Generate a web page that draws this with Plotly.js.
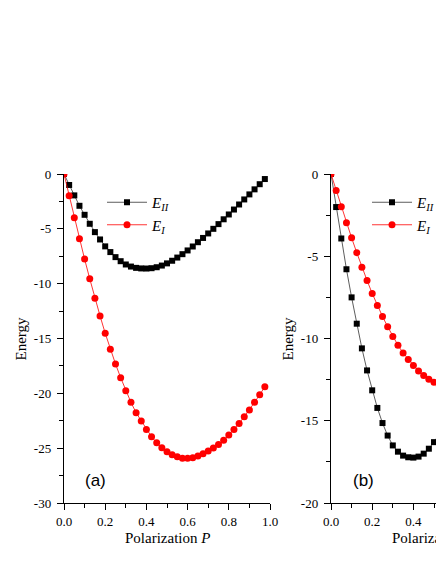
<!DOCTYPE html>
<html>
<head>
<meta charset="utf-8">
<script src="https://cdn.plot.ly/plotly-3.0.1.min.js"></script>
<style>
html,body{margin:0;padding:0;overflow:hidden;background:#fff;}
#wrap{width:436px;height:564px;overflow:hidden;}
#plot{width:560px;height:564px;}
</style>
</head>
<body>
<div id="wrap"><div id="plot"></div></div>
<script>
// Panel (a) data
const P_A = [0,0.025,0.05,0.075,0.1,0.125,0.15,0.175,0.2,0.225,0.25,0.275,0.3,0.325,0.35,0.375,0.4,0.425,0.45,0.475,0.5,0.525,0.55,0.575,0.6,0.625,0.65,0.675,0.7,0.725,0.75,0.775,0.8,0.825,0.85,0.875,0.9,0.925,0.95,0.975];
const EII_A = [0,-1.0,-1.95,-2.9,-3.72,-4.54,-5.3,-5.97,-6.6,-7.12,-7.58,-7.95,-8.25,-8.44,-8.56,-8.61,-8.62,-8.59,-8.5,-8.35,-8.15,-7.91,-7.62,-7.31,-6.97,-6.61,-6.22,-5.83,-5.42,-5.0,-4.57,-4.13,-3.69,-3.24,-2.78,-2.32,-1.86,-1.4,-0.93,-0.46];
const EI_A = [0,-1.98,-3.99,-5.91,-7.76,-9.56,-11.33,-12.94,-14.52,-15.98,-17.32,-18.57,-19.76,-20.82,-21.77,-22.53,-23.29,-23.96,-24.51,-24.97,-25.33,-25.6,-25.79,-25.91,-25.93,-25.87,-25.72,-25.5,-25.25,-24.98,-24.66,-24.27,-23.81,-23.29,-22.74,-22.14,-21.52,-20.82,-20.13,-19.4];
// Panel (b) data (visible part)
const P_B = [0,0.025,0.05,0.075,0.1,0.125,0.15,0.175,0.2,0.225,0.25,0.275,0.3,0.325,0.35,0.375,0.4,0.425,0.45,0.475,0.5,0.525];
const EII_B = [0,-2.01,-3.92,-5.79,-7.5,-9.1,-10.6,-11.94,-13.15,-14.22,-15.14,-15.9,-16.5,-16.88,-17.12,-17.22,-17.24,-17.18,-17.0,-16.7,-16.3,-15.82];
const EI_B = [0,-1.0,-1.99,-2.96,-3.88,-4.78,-5.67,-6.47,-7.26,-7.99,-8.66,-9.28,-9.88,-10.41,-10.88,-11.27,-11.64,-11.98,-12.25,-12.48,-12.66,-12.8];

// Tick labels
const X_TICKS = [0,0.2,0.4,0.6,0.8,1.0];
const X_TICKTEXT = ['0.0','0.2','0.4','0.6','0.8','1.0'];
const X_MINOR = [0.1,0.3,0.5,0.7,0.9];
const YA_TICKS = [0,-5,-10,-15,-20,-25,-30];
const YA_TICKTEXT = ['0','-5','-10','-15','-20','-25','-30'];
const YA_MINOR = [-2.5,-7.5,-12.5,-17.5,-22.5,-27.5];
const YB_TICKS = [0,-5,-10,-15,-20];
const YB_TICKTEXT = ['0','-5','-10','-15','-20'];
const YB_MINOR = [-2.5,-7.5,-12.5,-17.5];

const NAME_II = '<i>E</i><sub><i>II</i></sub>';
const NAME_I = '<i>E</i><sub><i>I</i></sub>';

const W = 560, H = 564;
const SERIF = 'Liberation Serif';

const blackLine = {color:'#333', width:0.8};
const blackMarker = {symbol:'square', size:6, color:'#000'};
const redLine = {color:'#ff0000', width:0.8};
const redMarker = {symbol:'circle', size:7, color:'#ff0000'};

const data = [
  {x:P_A, y:EII_A, name:NAME_II, mode:'lines+markers', line:blackLine, marker:blackMarker, xaxis:'x', yaxis:'y', legend:'legend'},
  {x:P_A, y:EI_A, name:NAME_I, mode:'lines+markers', line:redLine, marker:redMarker, xaxis:'x', yaxis:'y', legend:'legend'},
  {x:P_B, y:EII_B, name:NAME_II, mode:'lines+markers', line:blackLine, marker:blackMarker, xaxis:'x2', yaxis:'y2', legend:'legend2'},
  {x:P_B, y:EI_B, name:NAME_I, mode:'lines+markers', line:redLine, marker:redMarker, xaxis:'x2', yaxis:'y2', legend:'legend2'}
];

const yDom = [(H-503)/H, (H-174)/H];
const tickfont = {family:SERIF, size:13, color:'#000'};

function xax(dom, anchor, extra){
  return Object.assign({
    domain:dom, range:[0,1], anchor:anchor, showgrid:false, zeroline:false,
    showline:true, linecolor:'#000', linewidth:1.2,
    ticks:'outside', ticklen:6, tickwidth:1, tickcolor:'#000',
    tickmode:'array', tickvals:X_TICKS, ticktext:X_TICKTEXT, tickfont:tickfont,
    minor:{tickmode:'array', tickvals:X_MINOR, ticks:'outside', ticklen:3.5, tickwidth:1, tickcolor:'#000', showgrid:false}
  }, extra||{});
}
function yax(range, ticks, text, minor, anchor, extra){
  return Object.assign({
    domain:yDom, range:range, anchor:anchor, showgrid:false, zeroline:false,
    showline:true, linecolor:'#000', linewidth:1.2,
    ticks:'outside', ticklen:6, tickwidth:1, tickcolor:'#000',
    tickmode:'array', tickvals:ticks, ticktext:text, tickfont:tickfont, ticklabelstandoff:3,
    minor:{tickmode:'array', tickvals:minor, ticks:'outside', ticklen:3.5, tickwidth:1, tickcolor:'#000', showgrid:false}
  }, extra||{});
}
const mirrorX = {side:'top', ticks:'inside', showticklabels:false, minor:{tickmode:'array', tickvals:X_MINOR, ticks:'inside', ticklen:3.5, tickwidth:1, tickcolor:'#000', showgrid:false}};

const legFont = {family:SERIF, size:15, color:'#000'};

const layout = {
  width:W, height:H,
  margin:{l:0, r:0, t:0, b:0},
  paper_bgcolor:'#fff', plot_bgcolor:'#fff',
  showlegend:true,
  xaxis: xax([64/W, 270/W], 'y'),
  yaxis: yax([-30,0], YA_TICKS, YA_TICKTEXT, YA_MINOR, 'x'),
  xaxis2: xax([331/W, 537/W], 'y2'),
  yaxis2: yax([-20,0], YB_TICKS, YB_TICKTEXT, YB_MINOR, 'x2'),
  xaxis3: xax([64/W, 270/W], 'y', Object.assign({overlaying:'x'}, mirrorX)),
  yaxis3: yax([-30,0], YA_TICKS, YA_TICKTEXT, YA_MINOR, 'x', {overlaying:'y', side:'right', ticks:'inside', showticklabels:false, minor:{tickmode:'array', tickvals:YA_MINOR, ticks:'inside', ticklen:3.5, tickwidth:1, tickcolor:'#000', showgrid:false}}),
  xaxis4: xax([331/W, 537/W], 'y2', Object.assign({overlaying:'x2'}, mirrorX)),
  yaxis4: yax([-20,0], YB_TICKS, YB_TICKTEXT, YB_MINOR, 'x2', {overlaying:'y2', side:'right', ticks:'inside', showticklabels:false, minor:{tickmode:'array', tickvals:YB_MINOR, ticks:'inside', ticklen:3.5, tickwidth:1, tickcolor:'#000', showgrid:false}}),
  legend:{x:102/W, y:(H-186)/H, xanchor:'left', yanchor:'top', bgcolor:'rgba(0,0,0,0)', font:legFont, tracegroupgap:0, itemwidth:40},
  legend2:{x:367/W, y:(H-186)/H, xanchor:'left', yanchor:'top', bgcolor:'rgba(0,0,0,0)', font:legFont, tracegroupgap:0, itemwidth:40},
  annotations:[
    {text:'(a)', x:95/W, y:(H-480)/H, xref:'paper', yref:'paper', showarrow:false, xanchor:'center', yanchor:'middle', font:{family:'Liberation Sans', size:17, color:'#000'}},
    {text:'(b)', x:363/W, y:(H-480)/H, xref:'paper', yref:'paper', showarrow:false, xanchor:'center', yanchor:'middle', font:{family:'Liberation Sans', size:17, color:'#000'}},
    {text:'Energy', x:20/W, y:(H-338.5)/H, xref:'paper', yref:'paper', showarrow:false, textangle:-90, xanchor:'center', yanchor:'middle', font:{family:SERIF, size:15, color:'#000'}},
    {text:'Energy', x:287/W, y:(H-338.5)/H, xref:'paper', yref:'paper', showarrow:false, textangle:-90, xanchor:'center', yanchor:'middle', font:{family:SERIF, size:15, color:'#000'}},
    {text:'Polarization <i>P</i>', x:167/W, y:(H-538)/H, xref:'paper', yref:'paper', showarrow:false, xanchor:'center', yanchor:'middle', font:{family:SERIF, size:15, color:'#000'}},
    {text:'Polarization <i>P</i>', x:434/W, y:(H-538)/H, xref:'paper', yref:'paper', showarrow:false, xanchor:'center', yanchor:'middle', font:{family:SERIF, size:15, color:'#000'}}
  ]
};

Plotly.newPlot('plot', data, layout, {displayModeBar:false, staticPlot:true});
</script>
</body>
</html>
